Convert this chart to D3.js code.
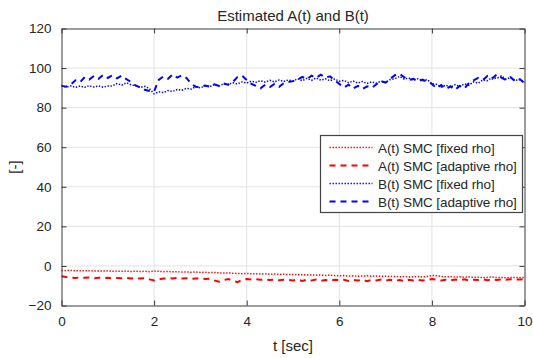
<!DOCTYPE html>
<html>
<head>
<meta charset="utf-8">
<script src="https://cdn.jsdelivr.net/npm/d3@7"></script>
<style>
  html, body { margin: 0; padding: 0; background: #fff; }
  svg { display: block; font-family: "Liberation Sans", Arial, sans-serif; }
</style>
</head>
<body>
<svg id="chart" width="533" height="358"></svg>
<script>
// Sample times, 0.1 s apart
const time = d3.range(0, 101).map(i => i / 10);

// A(t), fixed rho
const aFixed = [
  -2.3, -2.4, -2.3, -2.5, -2.4, -2.5, -2.4, -2.6, -2.5, -2.6,
  -2.5, -2.7, -2.6, -2.7, -2.6, -2.8, -2.7, -2.8, -2.7, -2.9,
  -2.6, -2.7, -2.9, -2.8, -3.0, -2.9, -3.1, -3.0, -3.2, -3.1,
  -3.3, -3.2, -3.4, -3.3, -3.5, -3.6, -3.5, -3.7, -3.8, -3.9,
  -3.8, -4.0, -3.9, -4.1, -4.0, -4.2, -4.1, -4.3, -4.2, -4.4,
  -4.3, -4.5, -4.4, -4.6, -4.5, -4.7, -4.6, -4.8, -4.7, -4.9,
  -5.0, -4.9, -5.1, -5.0, -5.2, -5.1, -5.0, -5.2, -5.1, -5.3,
  -5.2, -5.4, -5.3, -5.5, -5.4, -5.6, -5.5, -5.4, -5.6, -5.3,
  -4.8, -5.0, -5.3, -5.5, -5.4, -5.6, -5.5, -5.7, -5.6, -5.8,
  -5.7, -5.9, -5.8, -5.6, -5.9, -5.8, -6.0, -5.9, -5.8, -5.9,
  -5.8
];

// A(t), adaptive rho
const aAdapt = [
  -5.2, -5.6, -5.9, -6.1, -5.8, -6.0, -5.9, -6.2, -6.0, -6.1,
  -6.0, -6.3, -6.1, -6.2, -6.0, -6.3, -6.1, -6.4, -6.2, -6.8,
  -7.4, -6.8, -6.4, -6.2, -6.3, -6.1, -6.4, -6.2, -6.5, -6.3,
  -6.4, -6.6, -6.5, -7.3, -8.0, -7.2, -6.6, -7.4, -8.2, -7.0,
  -6.6, -6.8, -6.7, -7.0, -6.8, -7.1, -6.9, -7.2, -7.0, -7.1,
  -7.3, -6.9, -7.6, -7.0, -7.4, -6.9, -7.5, -7.1, -7.4, -7.0,
  -7.2, -7.0, -7.6, -7.1, -7.4, -7.0, -7.7, -7.1, -7.3, -6.9,
  -7.4, -7.0, -7.5, -7.1, -7.6, -7.0, -7.3, -7.0, -7.4, -7.1,
  -6.6, -7.0, -7.4, -7.0, -7.3, -6.9, -7.2, -6.8, -7.3, -7.0,
  -7.1, -6.8, -7.2, -6.9, -7.1, -6.8, -7.0, -6.7, -6.9, -6.8,
  -6.7
];

// B(t), fixed rho
const bFixed = [
  91.2, 90.4, 91.0, 90.2, 90.9, 90.3, 91.1, 90.4, 91.0, 90.3,
  90.9, 91.0, 92.2, 91.4, 92.6, 91.6, 91.0, 90.2, 90.8, 89.6,
  87.0, 88.0, 87.6, 88.6, 88.2, 89.2, 88.8, 89.8, 89.4, 90.6,
  90.0, 91.0, 90.6, 91.6, 91.0, 92.0, 91.6, 92.6, 92.0, 93.0,
  92.4, 93.4, 92.8, 93.6, 92.9, 93.8, 93.0, 94.0, 93.2, 94.0,
  93.4, 94.6, 93.6, 94.8, 93.8, 95.0, 93.9, 94.6, 93.6, 94.4,
  93.4, 93.8, 92.6, 93.4, 92.4, 93.2, 92.2, 93.0, 92.4, 93.4,
  92.8, 94.2, 94.6, 95.8, 94.4, 95.0, 93.8, 94.6, 93.6, 94.2,
  92.0, 91.8, 90.4, 91.4, 90.2, 91.6, 90.6, 92.0, 91.4, 93.0,
  92.4, 94.0, 93.6, 95.2, 94.8, 96.0, 94.4, 95.2, 93.8, 94.2,
  92.6
];

// B(t), adaptive rho
const bAdapt = [
  91.0, 90.6, 91.6, 93.8, 92.8, 95.4, 94.2, 96.0, 94.6, 96.6,
  95.0, 96.4, 94.8, 96.2, 94.4, 93.0, 91.2, 90.2, 89.0, 88.4,
  88.2, 94.0, 95.8, 94.6, 96.8, 95.2, 96.4, 95.0, 92.0, 90.6,
  90.4, 91.2, 90.6, 91.8, 91.0, 92.2, 91.6, 93.0, 95.4, 96.2,
  94.0, 92.0, 91.0, 89.8, 91.6, 90.4, 92.0, 90.6, 92.4, 93.0,
  93.4, 94.2, 95.6, 94.4, 96.2, 95.0, 96.6, 95.2, 95.8, 93.8,
  92.0, 90.2, 91.6, 89.6, 91.0, 89.4, 90.8, 90.0, 91.8, 93.4,
  92.6, 94.6, 96.4, 97.2, 95.4, 94.0, 94.6, 93.4, 94.2, 93.0,
  92.0, 89.8, 91.4, 89.4, 90.8, 89.0, 91.0, 89.6, 92.4, 93.8,
  95.0, 94.0, 96.0, 94.6, 96.8, 95.2, 94.0, 95.4, 93.2, 94.4,
  92.4
];

const xTicks = [0, 2, 4, 6, 8, 10];
const yTicks = [-20, 0, 20, 40, 60, 80, 100, 120];
const seriesNames = [
  "A(t) SMC [fixed rho]",
  "A(t) SMC [adaptive rho]",
  "B(t) SMC [fixed rho]",
  "B(t) SMC [adaptive rho]"
];

const series = [
  { name: seriesNames[0], values: aFixed, color: "#ff0000", dash: "1.4,1.6", width: 1.5 },
  { name: seriesNames[1], values: aAdapt, color: "#ff0000", dash: "6,5", width: 2 },
  { name: seriesNames[2], values: bFixed, color: "#0000ff", dash: "1.4,1.6", width: 1.5 },
  { name: seriesNames[3], values: bAdapt, color: "#0000ff", dash: "6,5", width: 2 }
];

const svg = d3.select("#chart");
const plotLeft = 61.5, plotRight = 524.5, plotTop = 28.5, plotBottom = 305.5;

const x = d3.scaleLinear().domain([0, 10]).range([plotLeft, plotRight]);
const y = d3.scaleLinear().domain([-20, 120]).range([plotBottom, plotTop]);

const axisColor = "#3a3a3a";
const textColor = "#262626";

// grid
const grid = svg.append("g");
grid.selectAll(".gx").data(xTicks.slice(1, -1)).join("line")
  .attr("x1", d => x(d)).attr("x2", d => x(d))
  .attr("y1", plotTop).attr("y2", plotBottom)
  .attr("stroke", "#e3e3e3").attr("stroke-width", 1);
grid.selectAll(".gy").data(yTicks.slice(1, -1)).join("line")
  .attr("x1", plotLeft).attr("x2", plotRight)
  .attr("y1", d => y(d)).attr("y2", d => y(d))
  .attr("stroke", "#e3e3e3").attr("stroke-width", 1);

// data lines
const line = d3.line()
  .x((d, i) => x(time[i]))
  .y(d => y(d));

svg.append("g").selectAll("path").data(series).join("path")
  .attr("d", d => line(d.values))
  .attr("fill", "none")
  .attr("stroke", d => d.color)
  .attr("stroke-width", d => d.width)
  .attr("stroke-dasharray", d => d.dash);

// axes with inward ticks on all four sides
const tickLen = 5;
function styleAxis(g) {
  g.select(".domain").attr("stroke", axisColor).attr("stroke-width", 1);
  g.selectAll(".tick line").attr("stroke", axisColor);
  g.selectAll(".tick text").attr("fill", textColor)
    .style("font-size", "13.5px").style("font-family", "'Liberation Sans', Arial, sans-serif");
}

svg.append("g").attr("transform", `translate(0,${plotBottom})`)
  .call(d3.axisBottom(x).tickValues(xTicks).tickFormat(d3.format("d"))
    .tickSizeInner(-tickLen).tickSizeOuter(0).tickPadding(11))
  .call(styleAxis);
svg.append("g").attr("transform", `translate(0,${plotTop})`)
  .call(d3.axisTop(x).tickValues(xTicks).tickFormat("")
    .tickSizeInner(-tickLen).tickSizeOuter(0))
  .call(styleAxis);
svg.append("g").attr("transform", `translate(${plotLeft},0)`)
  .call(d3.axisLeft(y).tickValues(yTicks).tickFormat(d3.format("d"))
    .tickSizeInner(-tickLen).tickSizeOuter(0).tickPadding(10))
  .call(styleAxis);
svg.append("g").attr("transform", `translate(${plotRight},0)`)
  .call(d3.axisRight(y).tickValues(yTicks).tickFormat("")
    .tickSizeInner(-tickLen).tickSizeOuter(0))
  .call(styleAxis);

// titles
svg.append("text")
  .attr("x", (plotLeft + plotRight) / 2).attr("y", 21)
  .attr("text-anchor", "middle").attr("fill", textColor)
  .style("font-size", "15px")
  .text("Estimated A(t) and B(t)");

svg.append("text")
  .attr("x", (plotLeft + plotRight) / 2).attr("y", 351)
  .attr("text-anchor", "middle").attr("fill", textColor)
  .style("font-size", "15px")
  .text("t [sec]");

svg.append("text")
  .attr("transform", `translate(20,${(plotTop + plotBottom) / 2}) rotate(-90)`)
  .attr("text-anchor", "middle").attr("fill", textColor)
  .style("font-size", "15px")
  .text("[-]");

// legend
const lg = svg.append("g").attr("transform", "translate(320.5,135.5)");
lg.append("rect")
  .attr("width", 202).attr("height", 77)
  .attr("fill", "#fff").attr("stroke", "#444").attr("stroke-width", 1.2);
const rows = lg.selectAll("g.row").data(series).join("g")
  .attr("transform", (d, i) => `translate(0,${12 + i * 18})`);
rows.append("line")
  .attr("x1", 9).attr("x2", 52).attr("y1", 0).attr("y2", 0)
  .attr("stroke", d => d.color)
  .attr("stroke-width", d => d.width)
  .attr("stroke-dasharray", d => d.dash);
rows.append("text")
  .attr("x", 57.5).attr("y", 5)
  .attr("fill", textColor)
  .style("font-size", "13.5px")
  .style("letter-spacing", "-0.1px")
  .text(d => d.name);
</script>
</body>
</html>
